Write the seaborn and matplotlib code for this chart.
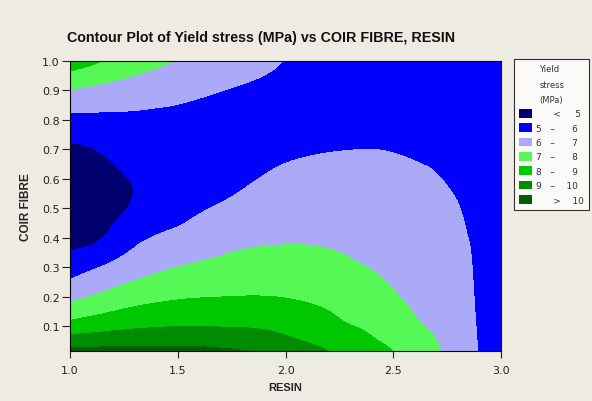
import matplotlib

matplotlib.use("Agg")

import matplotlib.pyplot as plt
import matplotlib.tri as mtri
import numpy as np
import seaborn as sns
from matplotlib.patches import Patch

# grid (RESIN across, COIR FIBRE down)
resin = [1.0, 1.125, 1.25, 1.5, 1.75, 2.0, 2.25, 2.375, 2.5, 2.625, 2.75, 2.875, 3.0]
coir_fibre = [0.0, 0.05, 0.1, 0.15, 0.2, 0.3, 0.4, 0.5, 0.6, 0.7, 0.8, 0.9, 1.0]
yield_stress = [
    [10.55, 10.60, 10.60, 10.45, 10.30, 9.70, 8.90, 8.50, 8.05, 7.45, 6.85, 6.10, 5.40],
    [9.45, 9.55, 9.64, 9.72, 9.60, 9.18, 8.60, 8.15, 7.80, 7.30, 6.78, 6.08, 5.45],
    [8.36, 8.60, 8.79, 8.98, 8.95, 8.73, 8.15, 7.90, 7.55, 7.05, 6.70, 6.05, 5.50],
    [7.48, 7.80, 8.10, 8.42, 8.48, 8.35, 7.90, 7.65, 7.30, 6.90, 6.60, 6.02, 5.55],
    [6.73, 7.10, 7.48, 7.88, 8.00, 7.96, 7.67, 7.42, 7.08, 6.78, 6.50, 6.00, 5.60],
    [5.54, 5.95, 6.38, 7.00, 7.29, 7.38, 7.19, 7.00, 6.83, 6.60, 6.35, 5.97, 5.65],
    [4.65, 4.88, 5.52, 6.23, 6.69, 6.89, 6.83, 6.73, 6.62, 6.42, 6.22, 5.93, 5.65],
    [4.30, 4.60, 4.95, 5.70, 6.18, 6.53, 6.55, 6.50, 6.40, 6.27, 6.12, 5.85, 5.60],
    [4.30, 4.60, 4.94, 5.35, 5.75, 6.18, 6.27, 6.25, 6.19, 6.10, 5.96, 5.72, 5.50],
    [4.80, 5.02, 5.32, 5.30, 5.50, 5.85, 5.98, 6.00, 5.97, 5.90, 5.80, 5.60, 5.40],
    [5.72, 5.78, 5.82, 5.65, 5.55, 5.65, 5.70, 5.72, 5.70, 5.68, 5.60, 5.45, 5.30],
    [6.94, 6.75, 6.59, 6.33, 5.95, 5.70, 5.50, 5.48, 5.45, 5.47, 5.45, 5.32, 5.20],
    [8.60, 8.10, 7.60, 6.95, 6.50, 5.97, 5.40, 5.35, 5.30, 5.30, 5.30, 5.20, 5.10],
]

levels = [0, 5, 6, 7, 8, 9, 10, 20]
level_labels = [
    "      <     5",
    "5   –      6",
    "6   –      7",
    "7   –      8",
    "8   –      9",
    "9   –    10",
    "      >    10",
]
COLORS = ["#00006E", "#0000FF", "#AAAAF8", "#55F855", "#00C800", "#008C00", "#006000"]

BG = "#EEEBE2"

sns.set_theme(style="white")
plt.rcParams["font.family"] = ["DejaVu Sans"]

fig = plt.figure(figsize=(5.92, 4.02), dpi=100, facecolor=BG)
ax = fig.add_axes([70 / 592, 1 - 352 / 402, 431 / 592, 290 / 402])

R, C = np.meshgrid(resin, coir_fibre)
Z = np.array(yield_stress)
tri = mtri.Triangulation(R.ravel(), C.ravel())
interp = mtri.CubicTriInterpolator(tri, Z.ravel(), kind="min_E")
refiner = mtri.UniformTriRefiner(tri)
tri_fine, z_fine = refiner.refine_field(Z.ravel(), triinterpolator=interp, subdiv=5)

ax.tricontourf(tri_fine, z_fine, levels=levels, colors=COLORS, antialiased=False)

ax.set_xlim(1.0, 3.0)
ax.set_ylim(0.015, 1.0)
ax.set_xticks([1.0, 1.5, 2.0, 2.5, 3.0])
ax.set_xticklabels(["1.0", "1.5", "2.0", "2.5", "3.0"])
yt = [0.1, 0.2, 0.3, 0.4, 0.5, 0.6, 0.7, 0.8, 0.9, 1.0]
ax.set_yticks(yt)
ax.set_yticklabels([f"{v:.1f}" for v in yt])
ax.tick_params(axis="both", direction="out", width=0.8, labelsize=8,
               colors="#222222", bottom=True, left=True)
ax.tick_params(axis="x", length=5, pad=5)
ax.tick_params(axis="y", length=6, pad=1.5)
for side in ["left", "bottom", "top", "right"]:
    ax.spines[side].set_visible(True)
    ax.spines[side].set_color("black")
    ax.spines[side].set_linewidth(0.8)

ax.set_xlabel("RESIN", fontsize=8, fontweight="bold", labelpad=5,
              family=["Liberation Sans", "DejaVu Sans"])
ax.set_ylabel("COIR FIBRE", fontsize=8.5, fontweight="bold", labelpad=7,
              family=["Liberation Sans", "DejaVu Sans"])

fig.text(261 / 592, 1 - 38 / 402, "Contour Plot of Yield stress (MPa) vs COIR FIBRE, RESIN",
         ha="center", va="center", fontsize=10.3, fontweight="bold", color="#111111",
         family=["Liberation Sans", "DejaVu Sans"])

handles = [Patch(facecolor=c, edgecolor="none") for c in COLORS]
leg = ax.legend(handles, level_labels, title="Yield\nstress\n(MPa)",
                loc="upper left", bbox_to_anchor=(514 / 592, 1 - 60 / 402),
                bbox_transform=fig.transFigure, fontsize=6.5, title_fontsize=6,
                frameon=True, fancybox=False, borderpad=0.6, labelspacing=0.55,
                handlelength=1.35, handleheight=1.1, handletextpad=0.5, borderaxespad=0)
leg.get_frame().set_edgecolor("black")
leg.get_frame().set_linewidth(0.8)
leg.get_frame().set_facecolor("white")
leg.get_title().set_color("#333333")
leg.get_title().set_linespacing(1.9)
for t in leg.get_texts():
    t.set_color("#333333")

fig.savefig("out.png", dpi=100, facecolor=BG)
